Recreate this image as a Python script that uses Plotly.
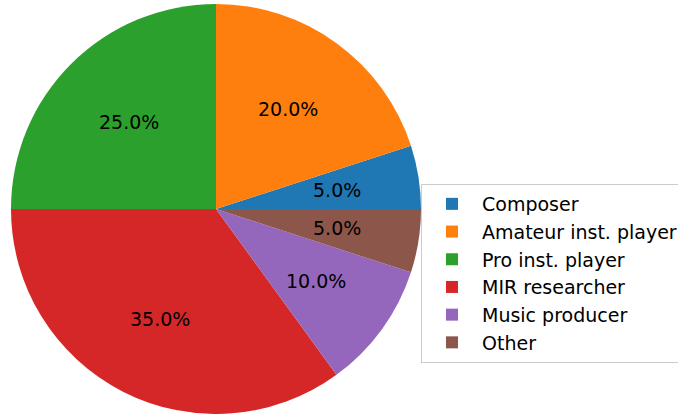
import math
import plotly.graph_objects as go

labels = ["Composer", "Amateur inst. player", "Pro inst. player",
          "MIR researcher", "Music producer", "Other"]
values = [5, 20, 25, 35, 10, 5]
colors = ["#1f77b4", "#ff7f0e", "#2ca02c", "#d62728", "#9467bd", "#8c564b"]

W, H = 678, 414
# pie domain (paper coords)
dx0, dx1 = 11 / W, 421 / W
dy0, dy1 = 0.0, 1 - 4 / H

total = sum(values)
# first slice starts at 3 o'clock going counterclockwise
rot = 90 - 360 * values[0] / total

fig = go.Figure(go.Pie(
    labels=labels, values=values, sort=False,
    direction="counterclockwise", rotation=rot,
    marker=dict(colors=colors, line=dict(width=0)),
    textinfo="none", hoverinfo="label+percent",
    domain=dict(x=[dx0, dx1], y=[dy0, dy1]),
))

# percent labels at 0.6 radius along each slice bisector
cx = (dx0 + dx1) / 2 * W
cy = (1 - (dy0 + dy1) / 2) * H
r = min((dx1 - dx0) * W, (dy1 - dy0) * H) / 2
start = 0.0
for v in values:
    frac = v / total
    mid = (start + frac / 2) * 2 * math.pi
    px = cx + 0.6 * r * math.cos(mid)
    py = cy - 0.6 * r * math.sin(mid)
    fig.add_annotation(x=px / W, y=1 - py / H, xref="paper", yref="paper",
                       xanchor="center", yanchor="middle",
                       text=f"{frac * 100:.1f}%", showarrow=False,
                       font=dict(size=19, color="black"))
    start += frac

fig.update_layout(
    width=W, height=H,
    margin=dict(l=0, r=0, t=0, b=0, autoexpand=False),
    paper_bgcolor="white", plot_bgcolor="white",
    font=dict(family="DejaVu Sans", size=19, color="black"),
    showlegend=True,
    legend=dict(x=421 / W, y=1 - 184 / H, xanchor="left", yanchor="top",
                bordercolor="#cccccc", borderwidth=1, bgcolor="white",
                font=dict(size=19), traceorder="normal", itemwidth=50),
)

fig.write_html("out.html", config={"displayModeBar": False},
               post_script="document.body.style.margin='0';document.body.style.overflow='hidden';")
